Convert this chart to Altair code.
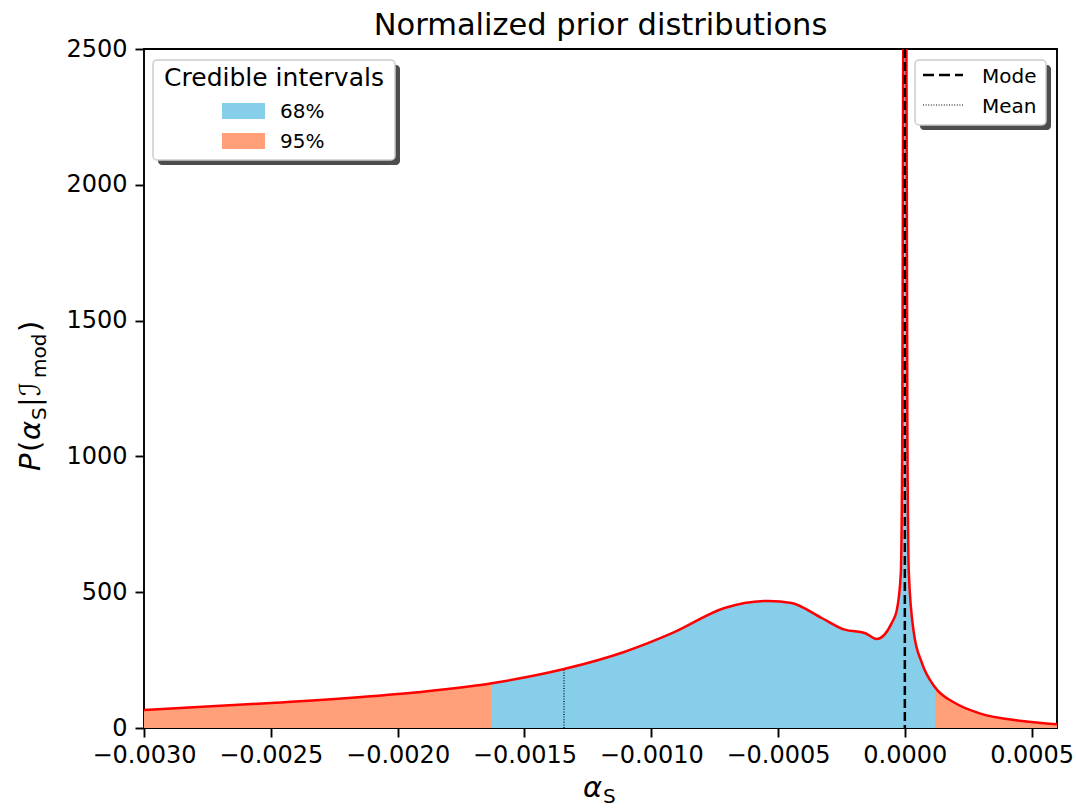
import altair as alt
import pandas as pd

# Prior density of alpha_S
alpha_s = [-0.0030, -0.0025, -0.0020, -0.001628, -0.001344, -0.001107, -0.000909,
           -0.000711, -0.000538, -0.000447, -0.000328, -0.000237, -0.000158,
           -0.000111, -0.0000514, -0.0000316, -0.0000158, -0.000010, -0.000005,
           0.0, 0.000005, 0.000010, 0.0000158, 0.0000356, 0.0000672, 0.000119,
           0.000198, 0.000292, 0.000462, 0.0006]
density = [66, 92, 125, 165, 217, 280, 353, 442, 468, 460, 405, 362, 350, 328,
           387, 434, 570, 1100, 3000, 9000, 3000, 1100, 570, 350, 240, 150, 92,
           55, 26, 14]

# Credible-interval bounds and point estimates
ci68 = (-0.001628, 0.000119)
mode_val = 0.0
mean_val = -0.001344
mean_density = 217

x_ticks = [-0.0030, -0.0025, -0.0020, -0.0015, -0.0010, -0.0005, 0.0, 0.0005]
y_ticks = [0, 500, 1000, 1500, 2000, 2500]

band_names = ["68%", "95%"]
band_colors = ["#87CEEB", "#FFA07A"]

W, H = 913, 679
FONT = "DejaVu Sans"

curve = pd.DataFrame({"a": alpha_s, "p": density})

# split the filled region into three pieces that share their boundary points
rows = []
for a, p in zip(alpha_s, density):
    if a <= ci68[0]:
        rows.append({"a": a, "p": p, "band": "95%", "seg": "low"})
    if ci68[0] <= a <= ci68[1]:
        rows.append({"a": a, "p": p, "band": "68%", "seg": "mid"})
    if a >= ci68[1]:
        rows.append({"a": a, "p": p, "band": "95%", "seg": "high"})
fill = pd.DataFrame(rows)

xscale = alt.Scale(domain=[-0.0030, 0.0006], nice=False, zero=False)
yscale = alt.Scale(domain=[0, 2500], nice=False)
xax = alt.Axis(values=x_ticks, format=".4f", title=None, labelFlush=False,
               labelOverlap=False, grid=False, domain=False)
yax = alt.Axis(values=y_ticks, format="d", title=None, labelOverlap=False,
               grid=False, domain=False)

area = alt.Chart(fill).mark_area(interpolate="monotone", clip=True).encode(
    x=alt.X("a:Q", scale=xscale, axis=xax),
    y=alt.Y("p:Q", scale=yscale, axis=yax, stack=None),
    color=alt.Color("band:N", scale=alt.Scale(domain=band_names, range=band_colors),
                    legend=None),
    detail="seg:N",
)

line = alt.Chart(curve).mark_line(interpolate="monotone", clip=True, color="red",
                                  strokeWidth=2.5).encode(
    x=alt.X("a:Q", scale=xscale), y=alt.Y("p:Q", scale=yscale))

mean_rule = alt.Chart(pd.DataFrame({"m": [mean_val], "lo": [0], "hi": [mean_density]})
                      ).mark_rule(color="black", strokeWidth=1.2, strokeDash=[1, 1.6]).encode(
    x=alt.X("m:Q", scale=xscale), y=alt.Y("lo:Q", scale=yscale), y2="hi:Q")

mode_rule = alt.Chart(pd.DataFrame({"m": [mode_val]})).mark_rule(
    color="black", strokeWidth=2.5, strokeDash=[9, 4]).encode(
    x=alt.X("m:Q", scale=xscale), y=alt.value(0), y2=alt.value(H))

one = alt.Data(values=[{}])


def box(x0, x1, y0, y1, **kw):
    return alt.Chart(one).mark_rect(**kw).encode(
        x=alt.value(x0), x2=alt.value(x1), y=alt.value(y0), y2=alt.value(y1))


def label(txt, x, y, size, **kw):
    opts = dict(fontSize=size, font=FONT, color="black", baseline="alphabetic",
                align="left")
    opts.update(kw)
    return alt.Chart(one).mark_text(**opts).encode(
        x=alt.value(x), y=alt.value(y), text=alt.value(txt))


def hline(x0, x1, y, **kw):
    return alt.Chart(one).mark_rule(**kw).encode(
        x=alt.value(x0), x2=alt.value(x1), y=alt.value(y))


# credible-interval key (upper left)
key_ci = [
    box(14, 256, 16, 116, color="#4d4d4d", cornerRadius=4),
    box(9, 251, 11, 111, fill="white", stroke="#cccccc", strokeWidth=1.5, cornerRadius=4),
    label("Credible intervals", 130, 37, 25, align="center"),
    box(78, 121, 54, 70, color=band_colors[0]),
    box(78, 121, 84, 100, color=band_colors[1]),
    label("68%", 136, 69, 20),
    label("95%", 136, 99, 20),
]

# point-estimate key (upper right)
key_pt = [
    box(776, 907, 16, 81, color="#4d4d4d", cornerRadius=4),
    box(771, 902, 11, 76, fill="white", stroke="#cccccc", strokeWidth=1.5, cornerRadius=4),
    hline(779, 819, 26, color="black", strokeWidth=2.5, strokeDash=[11, 5]),
    hline(779, 819, 56, color="black", strokeWidth=1, strokeDash=[1, 1.6]),
    label("Mode", 838, 34, 20),
    label("Mean", 838, 64, 20),
]

# title and axis labels
texts = [
    label("Normalized prior distributions", W / 2, -14, 30.5, align="center"),
    label("α", 439, 748, 29, fontStyle="italic"),
    label("S", 459, 754, 20),
]
y0 = 422  # start of the y label (bottom end), relative to plot top
ypieces = [
    ("P", 0, 29, "italic", False),
    ("(", 19, 29, "normal", False),
    ("α", 31, 29, "italic", False),
    ("S", 51, 20, "normal", True),
    ("|", 64, 29, "normal", False),
    ("ℐ", 75, 29, "normal", False),
    ("mod", 93, 20, "normal", True),
    (")", 139, 29, "normal", False),
]
for t, off, sz, st, sub in ypieces:
    texts.append(label(t, -98 if sub else -104, y0 - off, sz, fontStyle=st, angle=270))

chart = alt.layer(area, line, mean_rule, mode_rule, *key_ci, *key_pt, *texts).properties(
    width=W, height=H,
    autosize=alt.AutoSizeParams(type="none"),
    padding={"left": 144, "top": 49, "right": 19, "bottom": 80},
).configure_view(
    stroke="black", strokeWidth=1.9
).configure_axis(
    labelFont=FONT, labelFontSize=24, labelColor="black", tickColor="black",
    tickSize=9, tickWidth=1.9, labelPadding=6
).configure_axisY(labelPadding=8)

chart.save("out.html", embed_options={"renderer": "svg", "actions": False})
